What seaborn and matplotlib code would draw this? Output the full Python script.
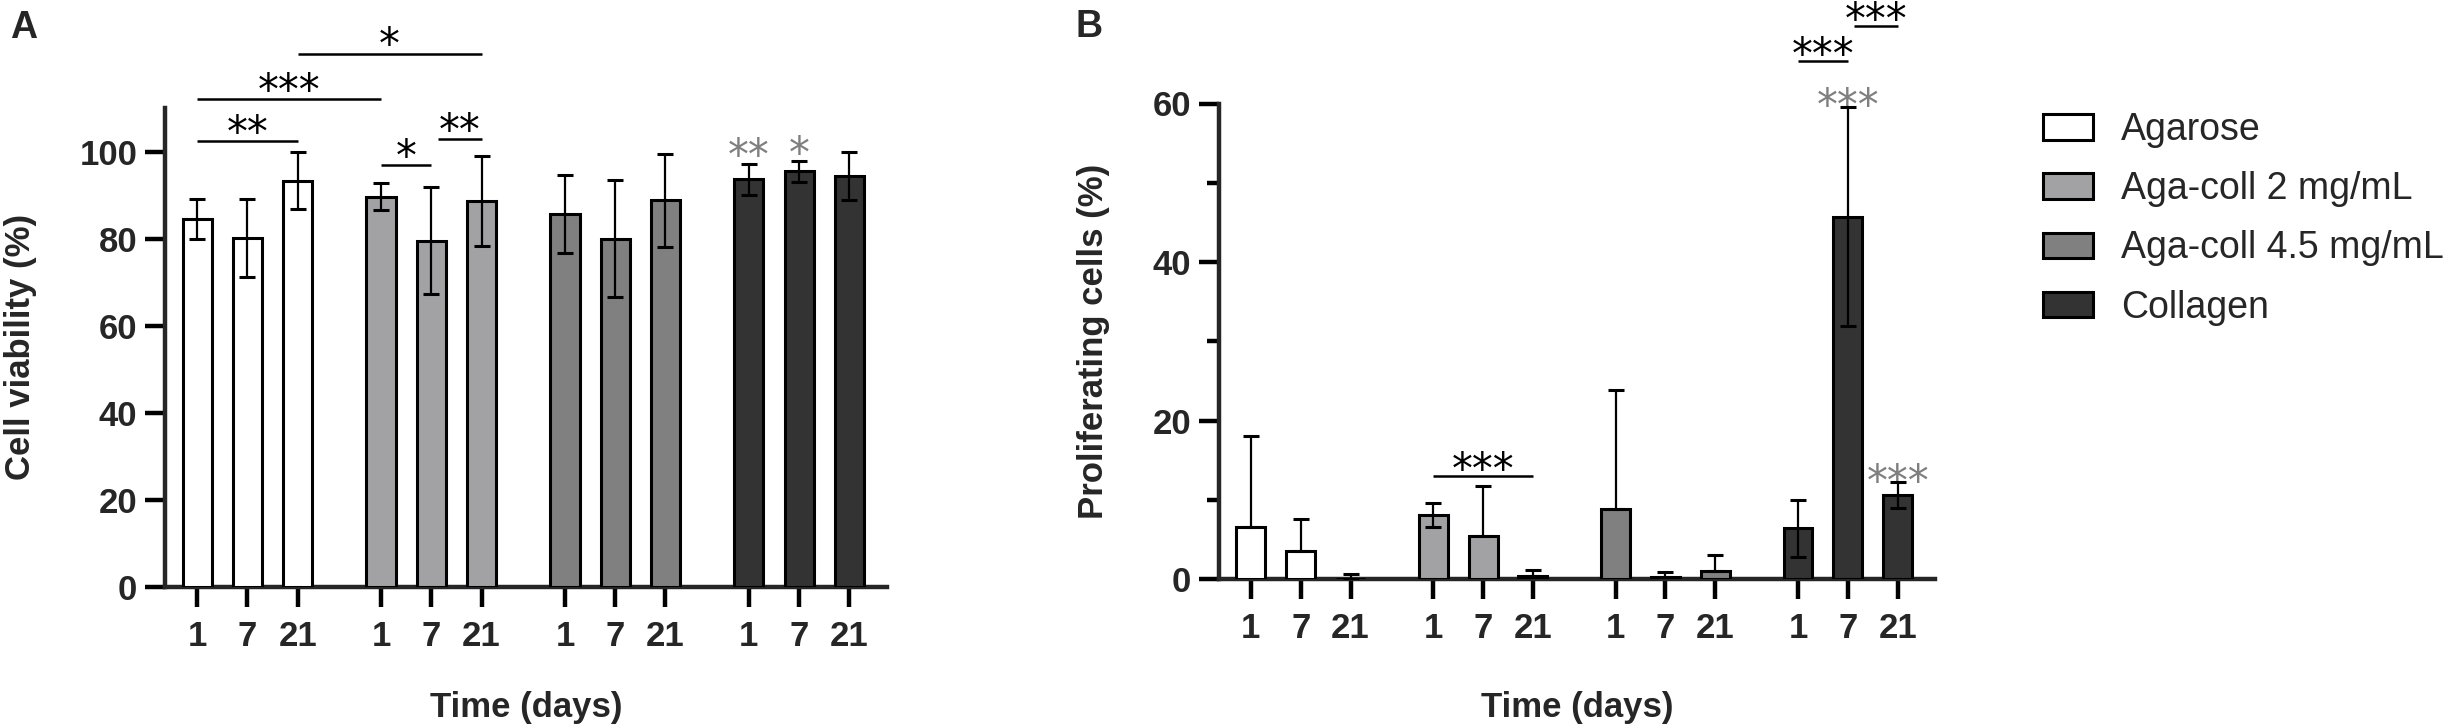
import numpy as np
import pandas as pd
import matplotlib
matplotlib.use("Agg")
import matplotlib.pyplot as plt
import seaborn as sns
from matplotlib.patches import Patch

# ---------------- data ----------------
groups = ["Agarose", "Aga-coll 2 mg/mL", "Aga-coll 4.5 mg/mL", "Collagen"]
days = ["1", "7", "21"]
colors = ["#FFFFFF", "#A2A2A5", "#808080", "#333333"]

# Panel A: cell viability (%)
viab_agarose = [84.5, 80.2, 93.3]
viab_aga2 = [89.6, 79.5, 88.7]
viab_aga45 = [85.6, 80.0, 88.8]
viab_coll = [93.6, 95.5, 94.4]
viab_err_agarose = [4.5, 8.9, 6.6]
viab_err_aga2 = [3.1, 12.3, 10.3]
viab_err_aga45 = [9.0, 13.5, 10.7]
viab_err_coll = [3.5, 2.4, 5.6]

# Panel B: proliferating cells (%)
prol_agarose = [6.6, 3.5, 0.05]
prol_aga2 = [8.1, 5.4, 0.35]
prol_aga45 = [8.8, 0.3, 1.0]
prol_coll = [6.4, 45.7, 10.6]
prol_err_agarose = [11.4, 4.1, 0.55]
prol_err_aga2 = [1.5, 6.3, 0.75]
prol_err_aga45 = [15.0, 0.6, 2.0]
prol_err_coll = [3.6, 13.8, 1.7]

# significance brackets: (bar index 1, bar index 2, line height, label, gap at start)
sig_A = [(2, 5, 122.5, "*", False), (0, 3, 112.1, "***", False),
         (0, 2, 102.4, "**", False), (3, 4, 96.9, "*", False),
         (4, 5, 102.9, "**", True)]
sig_B = [(3, 5, 13.0, "***", False), (9, 10, 65.3, "***", False),
         (10, 11, 69.8, "***", True)]
# grey stars vs. other groups: (bar index, label, height of star centre)
grey_A = [(9, "**", 101.2), (10, "*", 101.7)]
grey_B = [(10, "***", 60.9), (11, "***", 13.5)]

# ---------------- style ----------------
sns.set_style("ticks")
plt.rcParams["font.family"] = ["Liberation Sans", "DejaVu Sans"]
plt.rcParams["axes.linewidth"] = 3.2

W, H = 2460, 727
fig = plt.figure(figsize=(W / 100, H / 100), dpi=100)

GROUP_STEP = 3.66
pos = [g * GROUP_STEP + d for g in range(4) for d in range(3)]
STAR_FS = 30


def make_df(vals):
    rows = []
    for g, name in enumerate(groups):
        for d in range(3):
            rows.append({"pos": pos[g * 3 + d], "value": vals[g][d], "group": name})
    return pd.DataFrame(rows)


def star_text(ax, x, y, s, color, off_pt):
    # place asterisk ink centre off_pt points above y
    ax.annotate(s, xy=(x, y), xytext=(0, off_pt - 0.55 * STAR_FS), textcoords="offset points",
                ha="center", va="baseline", fontsize=STAR_FS, color=color,
                family="DejaVu Sans", annotation_clip=False)


def panel(rect, vals, errs, ymax, yticks, minor, sigs, greys, star_off):
    ax = fig.add_axes(rect)
    df = make_df(vals)
    sns.barplot(data=df, x="pos", y="value", hue="group", hue_order=groups,
                palette=colors, dodge=False, native_scale=True, width=0.58,
                edgecolor="black", linewidth=2.2, errorbar=None, legend=False,
                saturation=1, ax=ax, zorder=3)
    v = np.array([x for g in vals for x in g])
    e = np.array([x for g in errs for x in g])
    lower = np.where(v - e >= 0, e, 0.0)
    ax.errorbar(pos, v, yerr=[lower, e], fmt="none", ecolor="black",
                elinewidth=1.6, capsize=6, capthick=2.2, zorder=5)
    ax.set_ylim(0, ymax)
    ax.set_xlim(-0.64, 12.98 + 0.75)
    ax.set_yticks(yticks)
    ax.set_yticklabels([str(t) for t in yticks])
    if minor:
        ax.set_yticks(minor, minor=True)
    ax.set_xticks(pos)
    ax.set_xticklabels(days * 4)
    sns.despine(ax=ax)
    ax.tick_params(axis="both", which="major", length=14.5, width=3.2,
                   labelsize=25, color="black")
    ax.tick_params(axis="y", which="minor", length=9, width=3.2, color="black")
    ax.tick_params(axis="x", pad=9)
    ax.tick_params(axis="y", pad=5.5)
    for lab in ax.get_xticklabels() + ax.get_yticklabels():
        lab.set_fontweight("bold")
    ax.set_xlabel("Time (days)", fontsize=25, fontweight="bold", va="top")
    ax.set_ylabel("")
    for i1, i2, y, s, gap in sigs:
        x1 = pos[i1] + (0.13 if gap else 0.0)
        x2 = pos[i2]
        ax.plot([x1, x2], [y, y], color="black", lw=1.8, clip_on=False,
                solid_capstyle="butt", zorder=6)
        star_text(ax, (pos[i1] + pos[i2]) / 2 + (0.07 if gap else 0), y, s, "black", star_off)
    for i, s, y in greys:
        star_text(ax, pos[i], y, s, "#7F7F7F", 0)
    return ax


axA = panel([165 / W, 1 - 587 / H, 722 / W, 479 / H],
            [viab_agarose, viab_aga2, viab_aga45, viab_coll],
            [viab_err_agarose, viab_err_aga2, viab_err_aga45, viab_err_coll],
            110, [0, 20, 40, 60, 80, 100], None, sig_A, grey_A, 13.0)
axA.xaxis.set_label_coords(0.5, -0.217)

axB = panel([1219 / W, 1 - 579 / H, 716 / W, 475.5 / H],
            [prol_agarose, prol_aga2, prol_aga45, prol_coll],
            [prol_err_agarose, prol_err_aga2, prol_err_aga45, prol_err_coll],
            60, [0, 20, 40, 60], [10, 30, 50], sig_B, grey_B, 11.5)
axB.xaxis.set_label_coords(0.5, -0.2355)

# y labels and panel letters
fig.text(21 / W, 1 - 347 / H, "Cell viability (%)", rotation=90, ha="center",
         va="center", fontsize=25, fontweight="bold")
fig.text(1093 / W, 1 - 341 / H, "Proliferating cells (%)", rotation=90, ha="center",
         va="center", fontsize=25, fontweight="bold")
fig.text(10 / W, 1 - 38 / H, "A", ha="left", va="baseline", fontsize=27, fontweight="bold")
fig.text(1076 / W, 1 - 37 / H, "B", ha="left", va="baseline", fontsize=27, fontweight="bold")

# legend
handles = [Patch(facecolor=c, edgecolor="black", linewidth=2.2) for c in colors]
fig.legend(handles, groups, loc="upper left", bbox_to_anchor=(2043 / W, 1 - 112 / H),
           frameon=False, fontsize=27, handlelength=1.33, handleheight=0.67,
           handletextpad=0.75, labelspacing=0.62, borderpad=0, borderaxespad=0)

fig.savefig("out.png", dpi=100)
